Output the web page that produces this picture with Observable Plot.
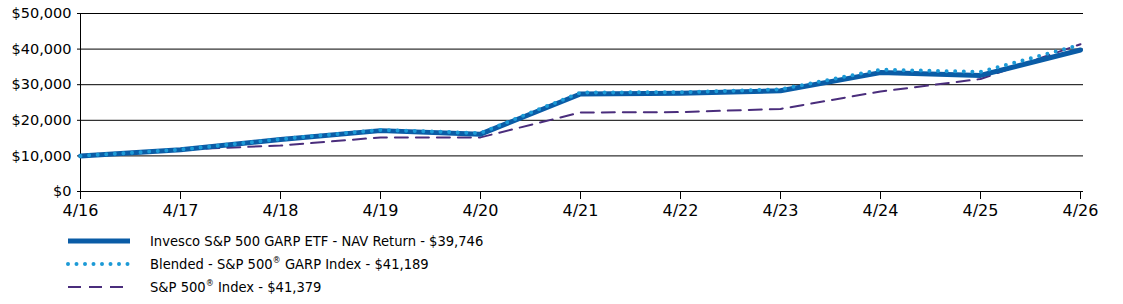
<!DOCTYPE html>
<html><head><meta charset="utf-8">
<script src="https://cdn.jsdelivr.net/npm/d3@7"></script>
<script src="https://cdn.jsdelivr.net/npm/@observablehq/plot@0.6"></script>
<style>
body{margin:0;background:#fff;}
#legend{font-family:"DejaVu Sans Condensed","DejaVu Sans",sans-serif;font-size:14.6px;color:#000;margin-top:3px;}
.row{display:flex;align-items:center;height:23px;}
.row svg{margin-left:66px;margin-right:18px;}
sup{font-size:9px;vertical-align:6px;line-height:0;}
</style></head>
<body><div id="chart"></div><div id="legend"></div>
<script>
const periods = ["4/16","4/17","4/18","4/19","4/20","4/21","4/22","4/23","4/24","4/25","4/26"];
const fund = [10000,11700,14600,17100,16100,27400,27600,28300,33400,32600,39746];
const blended = [10000,11750,14700,17300,16400,27800,27900,28700,34200,33600,41189];
const sp500 = [10000,11800,12900,15200,15200,22200,22300,23200,28100,31600,41379];
const yTicks = [0,10000,20000,30000,40000,50000];
const seriesNames = ["Invesco S&P 500 GARP ETF - NAV Return - $39,746","Blended - S&P 500® GARP Index - $41,189","S&P 500® Index - $41,379"];
const colors = ["#0a5ca6","#1c9ad6","#4a2d7c"];

const rows = (vals) => periods.map((p,i)=>({p, v: vals[i]}));

const chart = Plot.plot({
  width: 1123, height: 226,
  marginLeft: 77, marginRight: 40, marginTop: 13, marginBottom: 35,
  style: {fontFamily: "DejaVu Sans, sans-serif", fontSize: "15px", color: "#000"},
  x: {type: "point", domain: periods, padding: 0, label: null},
  y: {domain: [0,50000], label: null},
  marks: [
    Plot.ruleY(yTicks, {stroke: "#000", strokeWidth: 1}),
    Plot.ruleX([periods[0]], {stroke: "#000", strokeWidth: 1}),
    Plot.axisY(yTicks, {tickSize: 0, tickPadding: 6, tickFormat: d => "$" + d3.format(",")(d), fontSize: 14.5}),
    Plot.axisX(periods, {tickSize: 8, tickPadding: 5, stroke: "#000", fontSize: 16}),
    Plot.line(rows(sp500), {x: "p", y: "v", stroke: colors[2], strokeWidth: 2, strokeDasharray: "13,8"}),
    Plot.line(rows(fund), {x: "p", y: "v", stroke: colors[0], strokeWidth: 5}),
    Plot.line(rows(blended), {x: "p", y: "v", stroke: colors[1], strokeWidth: 4, strokeDasharray: "0,8.6", strokeLinecap: "round"})
  ]
});
document.getElementById("chart").append(chart);

const legend = document.getElementById("legend");
const dashes = [null, "0,8.5", "13,8"];
const widths = [5, 4, 2];
seriesNames.forEach((name,i)=>{
  const row = document.createElement("div"); row.className = "row";
  const s = d3.create("svg").attr("width",66).attr("height",10);
  s.append("line").attr("x1",2).attr("x2",64).attr("y1",5).attr("y2",5)
    .attr("stroke",colors[i]).attr("stroke-width",widths[i])
    .attr("stroke-dasharray",dashes[i]).attr("stroke-linecap", i===1?"round":"butt");
  row.append(s.node());
  const t = document.createElement("span");
  t.innerHTML = name.replace(/®/g,"<sup>®</sup>");
  row.append(t);
  legend.append(row);
});
</script></body></html>
